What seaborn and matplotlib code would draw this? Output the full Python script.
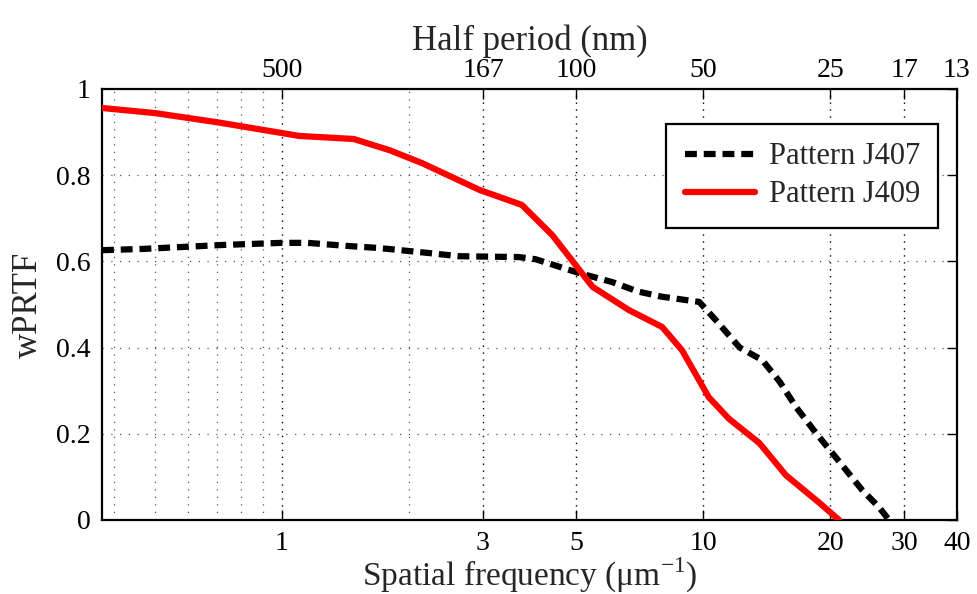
import numpy as np
import pandas as pd
import matplotlib
matplotlib.use("Agg")
import matplotlib.pyplot as plt
import seaborn as sns
from matplotlib.ticker import FixedLocator, FixedFormatter, NullLocator

# ---- data ----
freq_j407 = [0.374, 0.47, 0.72, 1.0, 1.15, 1.42, 1.7, 2.2, 2.63, 3.65, 4.0, 5.07, 6.08,
             7.0, 7.98, 9.78, 10.7, 12.2, 13.8, 15.2, 16.6, 18.5, 20.6, 23.8, 26.1, 27.6]
wprtf_j407 = [0.626, 0.629, 0.638, 0.643, 0.643, 0.636, 0.631, 0.620, 0.612, 0.610, 0.605,
              0.573, 0.552, 0.530, 0.518, 0.506, 0.464, 0.400, 0.371, 0.320, 0.262, 0.202,
              0.146, 0.070, 0.030, 0.0]

freq_j409 = [0.374, 0.5, 0.70, 1.1, 1.48, 1.8, 2.15, 2.94, 3.71, 4.38, 5.46, 6.66, 7.98,
             8.9, 10.3, 11.5, 13.6, 15.7, 17.5, 18.9, 21.0]
wprtf_j409 = [0.956, 0.944, 0.923, 0.891, 0.884, 0.858, 0.828, 0.766, 0.731, 0.661, 0.541,
              0.487, 0.448, 0.394, 0.285, 0.235, 0.178, 0.104, 0.066, 0.039, 0.0]

bottom_ticks = [1, 3, 5, 10, 20, 30, 40]
bottom_labels = ["1", "3", "5", "10", "20", "30", "40"]
top_labels = ["500", "167", "100", "50", "25", "17", "13"]
y_ticks = [0, 0.2, 0.4, 0.6, 0.8, 1.0]
y_labels = ["0", "0.2", "0.4", "0.6", "0.8", "1"]
minor_grid = [0.4, 0.5, 0.6, 0.7, 0.8, 0.9, 2]
major_grid = [1, 3, 5, 10, 20, 30]

df = pd.concat([
    pd.DataFrame({"freq": freq_j407, "wprtf": wprtf_j407, "pattern": "Pattern J407"}),
    pd.DataFrame({"freq": freq_j409, "wprtf": wprtf_j409, "pattern": "Pattern J409"}),
])

sns.set_theme(style="white")
plt.rcParams["font.family"] = ["Liberation Serif", "DejaVu Serif"]
plt.rcParams["mathtext.fontset"] = "custom"
plt.rcParams["mathtext.rm"] = "Liberation Serif"

TICK_FS = 20
LABEL_FS = 24
LEG_FS = 22

fig = plt.figure(figsize=(9.77, 5.94), dpi=100)
ax = fig.add_axes([0.1044, 0.1246, 0.8751, 0.7256])
ax.set_xscale("log")
ax.set_xlim(0.374, 40)
ax.set_ylim(0, 1)

# grid
for g in minor_grid:
    ax.axvline(g, color="#555555", linestyle=(0, (1, 5)), linewidth=0.9, zorder=0)
for g in major_grid:
    ax.axvline(g, color="black", linestyle=(0, (1, 4)), linewidth=1.0, zorder=0)
for g in [0.2, 0.4, 0.6, 0.8]:
    ax.axhline(g, color="#555555", linestyle=(0, (1, 6)), linewidth=0.9, zorder=0)

sns.lineplot(data=df[df.pattern == "Pattern J407"], x="freq", y="wprtf", ax=ax,
             color="black", linewidth=4.5, estimator=None, sort=False,
             label="Pattern J407", zorder=3)
sns.lineplot(data=df[df.pattern == "Pattern J409"], x="freq", y="wprtf", ax=ax,
             color="#ff0000", linewidth=4.5, estimator=None, sort=False,
             label="Pattern J409", zorder=3)
ax.lines[-2].set_dashes((1.9, 1.1))

ax.xaxis.set_major_locator(FixedLocator(bottom_ticks))
ax.xaxis.set_major_formatter(FixedFormatter(bottom_labels))
ax.xaxis.set_minor_locator(NullLocator())
ax.set_yticks(y_ticks)
ax.set_yticklabels(y_labels)

for sp in ax.spines.values():
    sp.set_visible(True)
    sp.set_color("black")
    sp.set_linewidth(1.6)

ax.tick_params(axis="both", which="both", direction="in", length=7, width=1.0,
               labelsize=TICK_FS, colors="black", top=False, right=True)
ax.tick_params(axis="x", pad=8)
ax.tick_params(axis="y", pad=8)

ax.set_xlabel("Spatial frequency (μm$^{\\mathregular{-1}}$)", fontsize=LABEL_FS, labelpad=0)
ax.set_ylabel("wPRTF", fontsize=LABEL_FS + 1, labelpad=8)

# top axis
ax2 = ax.twiny()
ax2.set_xscale("log")
ax2.set_xlim(ax.get_xlim())
ax2.xaxis.set_major_locator(FixedLocator(bottom_ticks))
ax2.xaxis.set_major_formatter(FixedFormatter(top_labels))
ax2.xaxis.set_minor_locator(NullLocator())
ax2.tick_params(axis="x", direction="in", length=7, width=1.0, labelsize=TICK_FS,
                colors="black", pad=4)
ax2.set_xlabel("Half period (nm)", fontsize=LABEL_FS + 1, labelpad=6)
for sp in ax2.spines.values():
    sp.set_visible(False)

leg = ax.legend(loc="upper right", bbox_to_anchor=(0.978, 0.919), fontsize=LEG_FS,
                frameon=True, fancybox=False, handlelength=2.3, borderpad=0.6,
                labelspacing=0.3, handletextpad=0.45, borderaxespad=0)
leg.get_frame().set_edgecolor("black")
leg.get_frame().set_linewidth(1.6)
leg.get_frame().set_alpha(1)

fig.savefig("out.png", dpi=100)
